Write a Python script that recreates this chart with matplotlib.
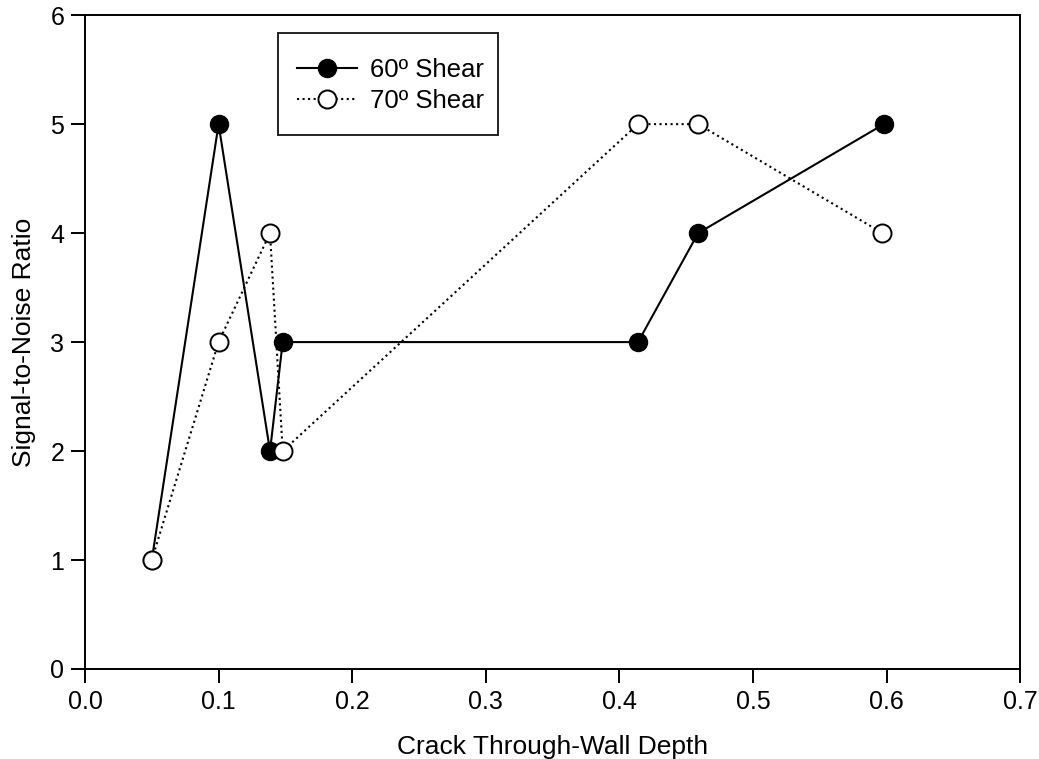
import matplotlib
matplotlib.use("Agg")
import matplotlib.pyplot as plt
from matplotlib.patches import Rectangle

plt.rcParams['font.family'] = ['Liberation Sans', 'DejaVu Sans']

x60 = [0.05, 0.100, 0.1385, 0.148, 0.414, 0.459, 0.598]
y60 = [1, 5, 2, 3, 3, 4, 5]
x70 = [0.05, 0.100, 0.1385, 0.148, 0.414, 0.459, 0.597]
y70 = [1, 3, 4, 2, 5, 5, 4]
labels = ["60º Shear", "70º Shear"]

fig = plt.figure(figsize=(10.39, 7.59), dpi=100)
ax = fig.add_axes([0.0818, 0.1186, 0.9, 0.8614])

ax.plot(x60, y60, '-', color='black', lw=1.5, marker='o', ms=13,
        mfc='black', mec='black', label=labels[0], zorder=3)
ax.plot(x70, y70, ':', color='black', lw=1.5, marker='o', ms=13,
        mfc='white', mec='black', mew=1.4, label=labels[1], zorder=4)

ax.set_xlim(0, 0.7)
ax.set_ylim(0, 6)
ax.set_xticks([i / 10 for i in range(8)])
ax.set_xticklabels([f"{i/10:.1f}" for i in range(8)])
ax.set_yticks(range(7))
ax.tick_params(direction='out', length=10, width=1.4, labelsize=18, pad=5)
for s in ax.spines.values():
    s.set_linewidth(1.4)

ax.set_xlabel("Crack Through-Wall Depth", fontsize=19, labelpad=15)
ax.set_ylabel("Signal-to-Noise Ratio", fontsize=19, labelpad=10)

leg = ax.legend(loc='upper left', bbox_to_anchor=(0.2267, 0.935), fontsize=18.5,
                frameon=False, borderpad=0, borderaxespad=0,
                handlelength=2.35, handletextpad=0.5, labelspacing=0.3)
ax.add_patch(Rectangle((0.2064, 0.8165), 0.2353, 0.156, transform=ax.transAxes,
                       fill=False, edgecolor='#222222', lw=1.4, zorder=5))

fig.savefig("out.png", dpi=100)
